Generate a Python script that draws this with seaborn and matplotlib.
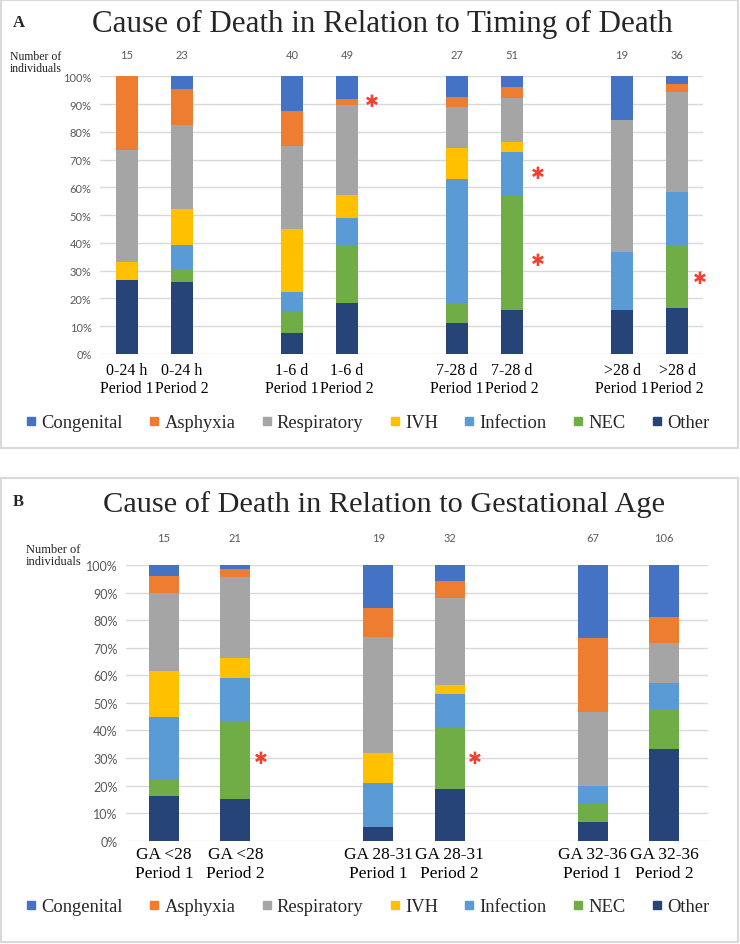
import pandas as pd
import numpy as np
import matplotlib.pyplot as plt
import seaborn as sns
from matplotlib.lines import Line2D
from matplotlib.patches import Rectangle
from matplotlib.transforms import blended_transform_factory

causes = ["Congenital", "Asphyxia", "Respiratory", "IVH", "Infection", "NEC", "Other"]
colors = ["#4472C4", "#ED7D31", "#A5A5A5", "#FFC000", "#5B9BD5", "#70AD47", "#264478"]
periods = ["Period 1", "Period 2"]

# Panel A - timing of death (% of deaths per bar)
timing_groups = ["0-24 h", "1-6 d", "7-28 d", ">28 d"]
timing_n = [15, 23, 40, 49, 27, 51, 19, 36]
timing_congenital = [0, 4.4, 12.5, 8.2, 7.4, 3.9, 15.8, 2.8]
timing_asphyxia = [26.7, 13.0, 12.5, 2.0, 3.7, 3.9, 0, 2.8]
timing_respiratory = [40.0, 30.4, 30.0, 32.6, 14.8, 15.7, 47.4, 36.1]
timing_ivh = [6.7, 13.0, 22.5, 8.2, 11.1, 3.9, 0, 0]
timing_infection = [0, 8.7, 7.5, 10.2, 44.5, 15.7, 21.0, 19.4]
timing_nec = [0, 4.4, 7.5, 20.4, 7.4, 41.2, 0, 22.2]
timing_other = [26.6, 26.1, 7.5, 18.4, 11.1, 15.7, 15.8, 16.7]

# Panel B - gestational age
ga_groups = ["GA <28", "GA 28-31", "GA 32-36"]
ga_n = [15, 21, 19, 32, 67, 106]
ga_congenital = [4.1, 1.3, 15.5, 5.8, 26.6, 18.7]
ga_asphyxia = [5.9, 2.9, 10.5, 6.3, 26.6, 9.6]
ga_respiratory = [28.6, 29.5, 42.3, 31.3, 27.0, 14.4]
ga_ivh = [16.7, 7.4, 10.7, 3.4, 0, 0]
ga_infection = [22.3, 15.4, 15.9, 12.5, 6.6, 9.5]
ga_nec = [6.1, 28.5, 0, 22.0, 6.5, 14.4]
ga_other = [16.3, 15.0, 5.1, 18.7, 6.7, 33.4]

SERIF = "Liberation Serif"
SANS = "Lato"
W, H = 740, 945

sns.set_style("white")
plt.rcParams["font.family"] = [SERIF, "DejaVu Sans"]


def px_axes(fig, left, right, top, bottom):
    return fig.add_axes([left / W, 1 - bottom / H, (right - left) / W, (bottom - top) / H])


def draw_panel(ax, groups, shares, ns, bar_width, xlim, tick_size, tick_pad, ytick_size, n_y, stars):
    bar_labels = [f"{g}\n{p}" for g in groups for p in periods]
    order = []
    for i, g in enumerate(groups):
        if i > 0:
            order.append(" " * i)  # empty slot between groups
        order.extend(f"{g}\n{p}" for p in periods)

    df = pd.DataFrame(dict(zip(causes, shares)))
    df["bar"] = bar_labels
    cum = df[causes[::-1]].cumsum(axis=1)

    # stacked bars: draw cumulative tops, tallest first
    for cause, col in zip(causes, colors):
        d = pd.DataFrame({"bar": bar_labels, "top": cum[cause]})
        sns.barplot(data=d, x="bar", y="top", order=order, color=col,
                    width=bar_width, saturation=1, ax=ax, errorbar=None,
                    linewidth=0, edgecolor="none")

    ax.set_xlim(*xlim)
    ax.set_ylim(0, 100)
    ax.set_yticks(np.arange(0, 101, 10))
    ax.set_yticklabels([f"{v}%" for v in range(0, 101, 10)],
                       fontfamily=SANS, fontsize=ytick_size, color="#595959")
    ax.yaxis.grid(True, color="#D9D9D9", lw=1)
    ax.set_axisbelow(True)
    for s in ax.spines.values():
        s.set_visible(False)
    ax.tick_params(axis="both", length=0)
    ax.tick_params(axis="x", pad=tick_pad)
    ax.tick_params(axis="y", pad=6)
    ax.set_xlabel("")
    ax.set_ylabel("")
    for lbl in ax.get_xticklabels():
        lbl.set_fontfamily(SERIF)
        lbl.set_fontsize(tick_size)
        lbl.set_color("black")
        lbl.set_linespacing(1.22)

    tr = blended_transform_factory(ax.transData, ax.transAxes)
    for lab, n in zip(bar_labels, ns):
        ax.text(order.index(lab), n_y, str(n), transform=tr, ha="center", va="center",
                fontfamily=SANS, fontsize=8, color="#595959")

    for lab, dx, yv in stars:
        ax.text(order.index(lab) + dx, yv, "\u2731", ha="center", va="center",
                fontfamily="DejaVu Sans", fontsize=12, color="#F2412F", clip_on=False)


fig = plt.figure(figsize=(W / 100, H / 100), dpi=100)

# panel frames
fig.add_artist(Rectangle((1 / W, 1 - 449 / H), 737 / W, 448 / H, transform=fig.transFigure,
                         fill=False, ec="#D9D9D9", lw=1.5))
fig.add_artist(Rectangle((1 / W, 1 - 943 / H), 737 / W, 464 / H, transform=fig.transFigure,
                         fill=False, ec="#D9D9D9", lw=1.5))

ax_a = px_axes(fig, 100, 703, 77.3, 355)
draw_panel(ax_a, timing_groups,
           [timing_congenital, timing_asphyxia, timing_respiratory, timing_ivh,
            timing_infection, timing_nec, timing_other],
           timing_n, 0.4, (-0.49, 10.47), 11.5, 5.5, 8, 1.077,
           [("1-6 d\nPeriod 2", 0.45, 91), ("7-28 d\nPeriod 2", 0.47, 65),
            ("7-28 d\nPeriod 2", 0.47, 34), (">28 d\nPeriod 2", 0.42, 27.3)])

ax_b = px_axes(fig, 126, 708, 566, 841.7)
draw_panel(ax_b, ga_groups,
           [ga_congenital, ga_asphyxia, ga_respiratory, ga_ivh,
            ga_infection, ga_nec, ga_other],
           ga_n, 0.42, (-0.53, 7.615), 12.5, 4.0, 9, 1.098,
           [("GA <28\nPeriod 2", 0.36, 30), ("GA 28-31\nPeriod 2", 0.35, 30)])

# titles and labels
fig.text(382 / W, 1 - 24 / H, "Cause of Death in Relation to Timing of Death",
         ha="center", va="center", fontfamily=SERIF, fontsize=22.3)
fig.text(384 / W, 1 - 505 / H, "Cause of Death in Relation to Gestational Age",
         ha="center", va="center", fontfamily=SERIF, fontsize=21.9)
fig.text(13 / W, 1 - 23 / H, "A", ha="left", va="center", fontfamily=SERIF,
         fontsize=12, fontweight="bold")
fig.text(13 / W, 1 - 502 / H, "B", ha="left", va="center", fontfamily=SERIF,
         fontsize=12, fontweight="bold")
fig.text(10 / W, 1 - 63 / H, "Number of\nindividuals", ha="left", va="center",
         fontfamily=SERIF, fontsize=8.5, linespacing=0.95, color="#222222")
fig.text(26 / W, 1 - 556 / H, "Number of\nindividuals", ha="left", va="center",
         fontfamily=SERIF, fontsize=9, linespacing=0.95, color="#222222")

handles = [Line2D([], [], marker="s", ls="", color=c, markersize=5.8) for c in colors]
for yc in (424, 908):
    fig.legend(handles, causes, loc="center", bbox_to_anchor=(368 / W, 1 - yc / H),
               ncol=7, frameon=False, prop={"family": SERIF, "size": 13.3},
               handlelength=0.5, handletextpad=0.3, columnspacing=1.45,
               borderaxespad=0, borderpad=0)

fig.savefig("out.png", dpi=100)
